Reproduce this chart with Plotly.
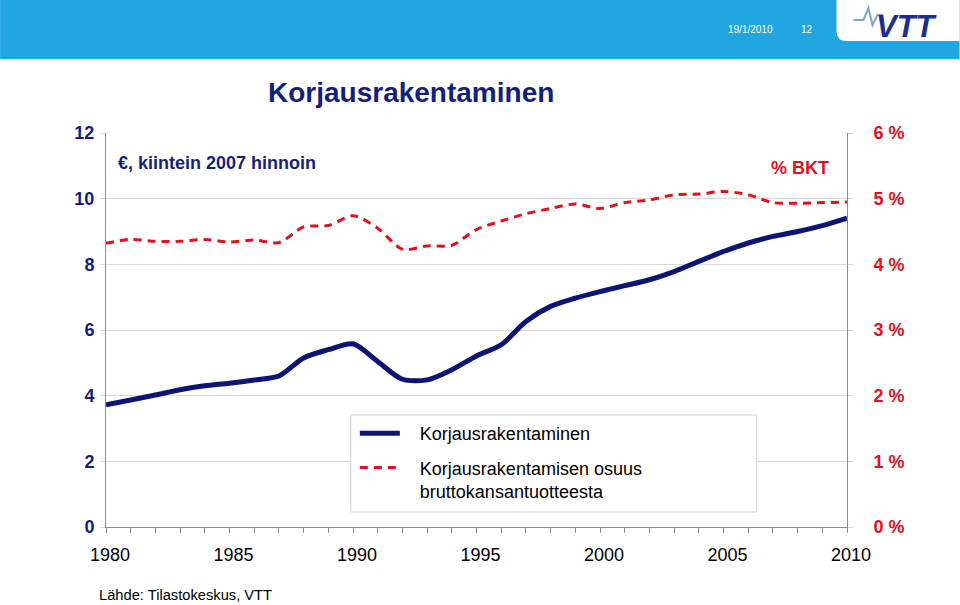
import plotly.graph_objects as go

# ---- data ----
years = list(range(1980, 2011))
korjaus_mrd = [3.72, 3.87, 4.02, 4.18, 4.30, 4.38, 4.48, 4.60, 5.15, 5.40,
               5.58, 5.04, 4.50, 4.48, 4.79, 5.21, 5.55, 6.26, 6.72, 6.97,
               7.17, 7.35, 7.53, 7.78, 8.09, 8.39, 8.65, 8.85, 9.00, 9.18, 9.41]
osuus_bkt = [4.32, 4.38, 4.35, 4.35, 4.38, 4.34, 4.37, 4.33, 4.57, 4.59,
             4.74, 4.55, 4.23, 4.28, 4.29, 4.53, 4.66, 4.77, 4.85, 4.92,
             4.85, 4.94, 4.98, 5.06, 5.07, 5.11, 5.06, 4.94, 4.93, 4.94, 4.95]
IND = "\u00a0\u00a0\u00a0"
series_names = [IND + "Korjausrakentaminen",
                IND + "Korjausrakentamisen osuus<br>" + IND + "bruttokansantuotteesta"]
left_ticks = [0, 2, 4, 6, 8, 10, 12]
right_ticks = [0, 1, 2, 3, 4, 5, 6]
x_ticks = [1980, 1985, 1990, 1995, 2000, 2005, 2010]

# ---- geometry helpers (pixels -> paper) ----
W, H = 960, 605
L, R, T, B = 106, 847.5, 133, 527


def px(x):
    return (x - L) / (R - L)


def py(y):
    return (B - y) / (B - T)


NAVY = "#0c1475"
TXT_NAVY = "#141f7c"
RED = "#e0101c"
GRID = "#d9d9d9"
AXIS = "#8c8c8c"
BLUE_BAND = "#22a6e2"
FONT = "Liberation Sans, Arial, sans-serif"

fig = go.Figure()
fig.add_trace(go.Scatter(
    x=years, y=korjaus_mrd, name=series_names[0], mode="lines",
    line=dict(color=NAVY, width=5, shape="spline", smoothing=0.8),
    legendgroup="a", yaxis="y"))
fig.add_trace(go.Scatter(
    x=years, y=osuus_bkt, name=series_names[1], mode="lines",
    line=dict(color=RED, width=3, dash="8px,6px", shape="spline", smoothing=0.8),
    legendgroup="b", yaxis="y2"))

shapes = [
    # header band
    dict(type="rect", xref="paper", yref="paper", x0=px(0), x1=px(W),
         y0=py(59), y1=py(0), fillcolor=BLUE_BAND, line=dict(width=0), layer="below"),
    # white logo notch with rounded bottom-left corner
    dict(type="path", xref="paper", yref="paper",
         path=(f"M{px(837)},{py(0)} L{px(837)},{py(31)} "
               f"Q{px(837)},{py(41)} {px(847)},{py(41)} "
               f"L{px(W)},{py(41)} L{px(W)},{py(0)} Z"),
         fillcolor="white", line=dict(width=0), layer="below"),
    # logo pulse
    dict(type="path", xref="paper", yref="paper",
         path=(f"M{px(854)},{py(20)} L{px(864)},{py(20)} L{px(869)},{py(8)} "
               f"L{px(873)},{py(25)} L{px(878)},{py(15)} L{px(884)},{py(15)}"),
         line=dict(color="#7ea6c6", width=2), layer="above"),
    # legend box
    dict(type="rect", xref="paper", yref="paper", x0=px(351), x1=px(757),
         y0=py(512), y1=py(415), fillcolor="white",
         line=dict(color="#d3d3d3", width=1), layer="above"),
]

annotations = [
    dict(text="<b>Korjausrakentaminen</b>", x=px(411), y=py(93), xref="paper", yref="paper",
         showarrow=False, xanchor="center", yanchor="middle",
         font=dict(size=28, color=TXT_NAVY, family=FONT)),
    dict(text="<b>€, kiintein 2007 hinnoin</b>", x=px(116), y=py(163), xref="paper",
         yref="paper", showarrow=False, xanchor="left", yanchor="middle",
         font=dict(size=18, color=TXT_NAVY, family=FONT)),
    dict(text="<b>% BKT</b>", x=px(831), y=py(168), xref="paper", yref="paper",
         showarrow=False, xanchor="right", yanchor="middle",
         font=dict(size=18, color=RED, family=FONT)),
    dict(text="Lähde: Tilastokeskus, VTT", x=px(97), y=py(595), xref="paper",
         yref="paper", showarrow=False, xanchor="left", yanchor="middle",
         font=dict(size=14.7, color="#000000", family=FONT)),
    dict(text="19/1/2010", x=px(726), y=py(29), xref="paper", yref="paper",
         showarrow=False, xanchor="left", yanchor="middle",
         font=dict(size=10, color="white", family=FONT)),
    dict(text="12", x=px(799), y=py(29), xref="paper", yref="paper",
         showarrow=False, xanchor="left", yanchor="middle",
         font=dict(size=10, color="white", family=FONT)),
    dict(text="<b><i>VTT</i></b>", x=px(908), y=py(27), xref="paper", yref="paper",
         showarrow=False, xanchor="center", yanchor="middle",
         font=dict(size=31, color="#1d2f8c", family=FONT)),
]

fig.update_layout(
    width=W, height=H, autosize=False,
    margin=dict(l=L, r=W - R, t=T, b=H - B, pad=0),
    paper_bgcolor="white", plot_bgcolor="white",
    font=dict(family=FONT, size=18, color="#000000"),
    showlegend=True,
    legend=dict(x=px(355), y=py(415), xanchor="left", yanchor="top",
                bgcolor="rgba(0,0,0,0)", borderwidth=0, valign="top",
                font=dict(size=18, color="#000000", family=FONT),
                tracegroupgap=8, itemwidth=40),
    xaxis=dict(range=[1980, 2010], tickvals=x_ticks, ticktext=[str(v) for v in x_ticks],
               ticks="outside", ticklen=5, tickcolor=AXIS,
               minor=dict(dtick=1, ticks="outside", ticklen=5, tickcolor=AXIS, showgrid=False),
               showline=True, linecolor=AXIS, linewidth=1, showgrid=False, zeroline=False,
               tickfont=dict(size=18, color="#000000", family=FONT), fixedrange=True,
               ticklabelstandoff=6, ticklabelshift=4),
    yaxis=dict(range=[0, 12], tickvals=left_ticks, ticks="outside", ticklen=5,
               tickcolor=GRID, showgrid=True, gridcolor=GRID, gridwidth=1,
               showline=True, linecolor=AXIS, linewidth=1, zeroline=False,
               tickfont=dict(size=18, color=TXT_NAVY, family=FONT, weight="bold"),
               ticklabelstandoff=2),
    yaxis2=dict(range=[0, 6], tickvals=right_ticks,
                ticktext=[f"{v} %" for v in right_ticks], overlaying="y", side="right",
                ticks="outside", ticklen=5, tickcolor=GRID, showgrid=False,
                showline=True, linecolor=AXIS, linewidth=1, zeroline=False,
                tickfont=dict(size=18, color=RED, family=FONT, weight="bold"),
                ticklabelstandoff=17),
    shapes=shapes, annotations=annotations,
)

fig.write_html("out.html", config={"displayModeBar": False},
               post_script="document.body.style.margin='0';document.body.style.padding='0';")
